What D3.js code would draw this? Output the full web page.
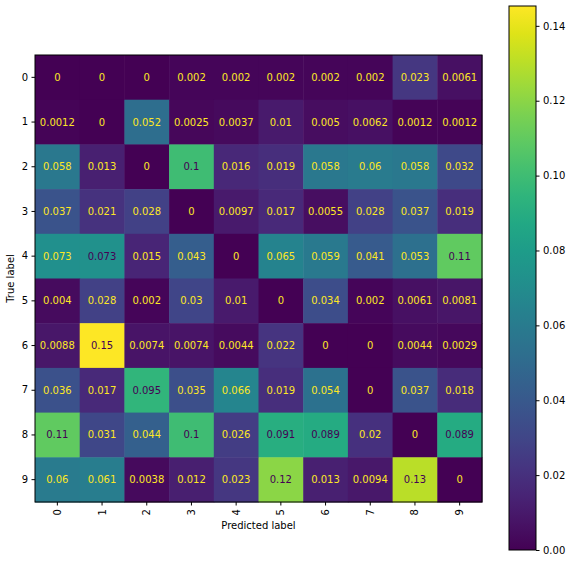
<!DOCTYPE html>
<meta charset="utf-8">
<style>
body { margin: 0; background: #fff; }
text { font-family: "DejaVu Sans", sans-serif; }
.axis path, .axis line { stroke: #000; }
.axis text { font-size: 10px; fill: #000; }
.cell-label { font-size: 10px; }
</style>
<svg width="572" height="563"></svg>
<script src="https://d3js.org/d3.v7.min.js"></script>
<script>
// class labels
var labels = ["0", "1", "2", "3", "4", "5", "6", "7", "8", "9"];

// rows = true label, cols = predicted label
var row0 = [0, 0, 0, 0.002, 0.002, 0.002, 0.002, 0.002, 0.023, 0.0061];
var row1 = [0.0012, 0, 0.052, 0.0025, 0.0037, 0.01, 0.005, 0.0062, 0.0012, 0.0012];
var row2 = [0.058, 0.013, 0, 0.1, 0.016, 0.019, 0.058, 0.06, 0.058, 0.032];
var row3 = [0.037, 0.021, 0.028, 0, 0.0097, 0.017, 0.0055, 0.028, 0.037, 0.019];
var row4 = [0.0726, 0.0731, 0.015, 0.043, 0, 0.065, 0.059, 0.041, 0.053, 0.11];
var row5 = [0.004, 0.028, 0.002, 0.03, 0.01, 0, 0.034, 0.002, 0.0061, 0.0081];
var row6 = [0.0088, 0.1453, 0.0074, 0.0074, 0.0044, 0.022, 0, 0, 0.0044, 0.0029];
var row7 = [0.036, 0.017, 0.095, 0.035, 0.066, 0.019, 0.054, 0, 0.037, 0.018];
var row8 = [0.11, 0.031, 0.044, 0.1, 0.026, 0.091, 0.089, 0.02, 0, 0.089];
var row9 = [0.06, 0.061, 0.0038, 0.012, 0.023, 0.12, 0.013, 0.0094, 0.13, 0];
var matrix = [row0, row1, row2, row3, row4, row5, row6, row7, row8, row9];

var cbTicks = [0, 0.02, 0.04, 0.06, 0.08, 0.10, 0.12, 0.14];

var svg = d3.select("svg");

var plot = {left: 35, top: 55, size: 447};

var x = d3.scaleBand().domain(labels).range([plot.left, plot.left + plot.size]);
var y = d3.scaleBand().domain(labels).range([plot.top, plot.top + plot.size]);

var cells = [];
matrix.forEach(function(r, i) {
  r.forEach(function(v, j) { cells.push({t: labels[i], p: labels[j], v: v}); });
});

var vmax = d3.max(cells, function(d) { return d.v; });
var vmin = 0;
var color = d3.scaleSequential(d3.interpolateViridis).domain([vmin, vmax]);
var thresh = (vmax + vmin) / 2;
var fmt = d3.format(".2~g");

svg.append("g")
  .selectAll("rect")
  .data(cells)
  .enter().append("rect")
    .attr("x", function(d) { return x(d.p); })
    .attr("y", function(d) { return y(d.t); })
    .attr("width", x.bandwidth() + 0.5)
    .attr("height", y.bandwidth() + 0.5)
    .attr("fill", function(d) { return color(d.v); });

svg.append("g")
  .selectAll("text")
  .data(cells)
  .enter().append("text")
    .attr("class", "cell-label")
    .attr("x", function(d) { return x(d.p) + x.bandwidth() / 2; })
    .attr("y", function(d) { return y(d.t) + y.bandwidth() / 2; })
    .attr("dy", "0.35em")
    .attr("text-anchor", "middle")
    .attr("fill", function(d) { return d.v < thresh ? color(vmax) : color(vmin); })
    .text(function(d) { return fmt(d.v); });

// frame
svg.append("rect")
  .attr("x", plot.left).attr("y", plot.top)
  .attr("width", plot.size).attr("height", plot.size)
  .attr("fill", "none").attr("stroke", "#000").attr("stroke-width", 1);

var xAxis = svg.append("g")
  .attr("class", "axis")
  .attr("transform", "translate(0," + (plot.top + plot.size) + ")")
  .call(d3.axisBottom(x).tickSize(3.5).tickPadding(3.5));
xAxis.select(".domain").remove();
xAxis.selectAll("text")
  .attr("transform", "rotate(-90)")
  .attr("text-anchor", "end")
  .attr("x", -7)
  .attr("y", 0)
  .attr("dy", "0.35em");

var yAxis = svg.append("g")
  .attr("class", "axis")
  .attr("transform", "translate(" + plot.left + ",0)")
  .call(d3.axisLeft(y).tickSize(3.5).tickPadding(3.5));
yAxis.select(".domain").remove();

svg.append("text")
  .attr("x", plot.left + plot.size / 2)
  .attr("y", 529)
  .attr("text-anchor", "middle")
  .attr("font-size", 10)
  .text("Predicted label");

svg.append("text")
  .attr("transform", "translate(14," + (plot.top + plot.size / 2) + ") rotate(-90)")
  .attr("text-anchor", "middle")
  .attr("font-size", 10)
  .text("True label");

// colorbar
var cb = {x: 509, top: 6, bottom: 550, width: 27};
var cy = d3.scaleLinear().domain([vmin, vmax]).range([cb.bottom, cb.top]);

var defs = svg.append("defs");
var grad = defs.append("linearGradient")
  .attr("id", "cbgrad")
  .attr("x1", 0).attr("y1", 1).attr("x2", 0).attr("y2", 0);
grad.selectAll("stop")
  .data(d3.range(0, 1.0001, 0.05))
  .enter().append("stop")
    .attr("offset", function(d) { return d; })
    .attr("stop-color", function(d) { return d3.interpolateViridis(d); });

svg.append("rect")
  .attr("x", cb.x).attr("y", cb.top)
  .attr("width", cb.width).attr("height", cb.bottom - cb.top)
  .attr("fill", "url(#cbgrad)")
  .attr("stroke", "#000").attr("stroke-width", 1);

var cbAxis = svg.append("g")
  .attr("class", "axis")
  .attr("transform", "translate(" + (cb.x + cb.width) + ",0)")
  .call(d3.axisRight(cy).tickValues(cbTicks).tickFormat(d3.format(".2f")).tickSize(3.5).tickPadding(3.5));
cbAxis.select(".domain").remove();
</script>
